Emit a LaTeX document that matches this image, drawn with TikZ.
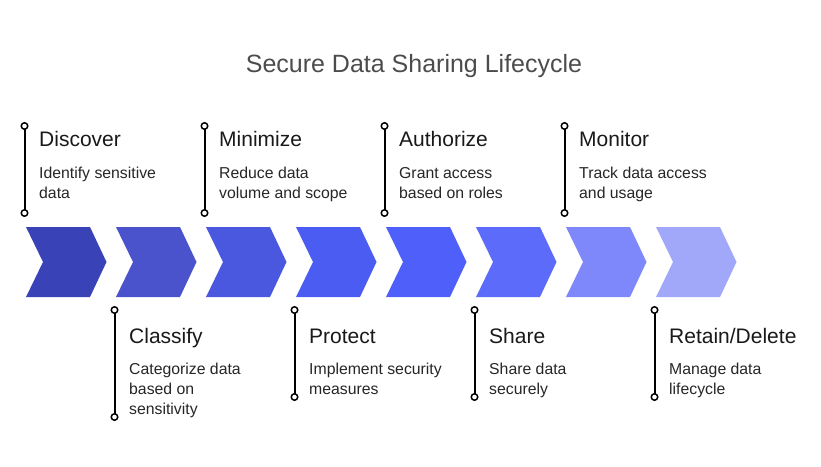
\documentclass[tikz,border=0pt]{standalone}
\usepackage{fontspec}
\setmainfont{Liberation Sans}
\usetikzlibrary{arrows.meta}
\definecolor{chevA}{HTML}{3A42B8}
\definecolor{chevB}{HTML}{4A52CC}
\definecolor{chevC}{HTML}{4A58DF}
\definecolor{chevD}{HTML}{4B5CF2}
\definecolor{chevE}{HTML}{4F60FA}
\definecolor{chevF}{HTML}{5D6BFA}
\definecolor{chevG}{HTML}{7F88FA}
\definecolor{chevH}{HTML}{A2A8F9}

\begin{document}
\begin{tikzpicture}[x=1pt,y=-1pt,
      stage/.style={anchor=base west,inner sep=0pt,text=black!90,
        font=\fontsize{21}{24}\selectfont},
      note/.style={anchor=base west,inner sep=0pt,align=left,text=black!85,
        font=\fontsize{15.8}{20}\selectfont},
      pin/.style={line width=2pt,
        {Circle[open,length=8pt,line width=1.5pt]}-{Circle[open,length=8pt,line width=1.5pt]}}]

  \useasboundingbox (0,0) rectangle (821,466);

  \path (414,72) node(ttl) [anchor=base,inner sep=0pt,text=black!70,
        font=\fontsize{25}{28}\selectfont] {Secure Data Sharing Lifecycle};

  % chevrons
  \foreach \c [count=\i from 0] in {chevA,chevB,chevC,chevD,chevE,chevF,chevG,chevH}
    \fill[\c] (26+90*\i,227) -- ++(64,0) -- ++(16.5,35) -- ++(-16.5,35)
      -- ++(-64,0) -- ++(17,-35) -- cycle;

  % upper steps (notes sit on their last line)
  \path (39,146) node(dsc) [stage] {Discover}
  (39,198) node(dscT) [note] {Identify sensitive\\data}
  (219,146) node(mnm) [stage] {Minimize}
  (219,198) node(mnmT) [note] {Reduce data\\volume and scope}
  (399,146) node(ath) [stage] {Authorize}
  (399,198) node(athT) [note] {Grant access\\based on roles}
  (579,146) node(mon) [stage] {Monitor}
  (579,198) node(monT) [note] {Track data access\\and usage};

  % lower steps
  \path (129,343) node(cls) [stage] {Classify}
  (129,414) node(clsT) [note] {Categorize data\\based on\\sensitivity}
  (309,343) node(prt) [stage] {Protect}
  (309,394) node(prtT) [note] {Implement security\\measures}
  (489,343) node(shr) [stage] {Share}
  (489,394) node(shrT) [note] {Share data\\securely}
  (669,343) node(ret) [stage] {Retain/Delete}
  (669,394) node(retT) [note] {Manage data\\lifecycle};

  \path (24.5,122) coordinate(dscA) (24.5,217) coordinate(dscB)
  (204.5,122) coordinate(mnmA) (204.5,217) coordinate(mnmB)
  (384.5,122) coordinate(athA) (384.5,217) coordinate(athB)
  (564.5,122) coordinate(monA) (564.5,217) coordinate(monB)
  (114.5,306) coordinate(clsA) (114.5,421) coordinate(clsB)
  (294.5,306) coordinate(prtA) (294.5,401) coordinate(prtB)
  (474.5,306) coordinate(shrA) (474.5,401) coordinate(shrB)
  (654.5,306) coordinate(retA) (654.5,401) coordinate(retB);

  \path (dscA) edge[pin] (dscB)
  (mnmA) edge[pin] (mnmB)
  (athA) edge[pin] (athB)
  (monA) edge[pin] (monB)
  (clsA) edge[pin] (clsB)
  (prtA) edge[pin] (prtB)
  (shrA) edge[pin] (shrB)
  (retA) edge[pin] (retB)
  ;

\end{tikzpicture}
\end{document}
